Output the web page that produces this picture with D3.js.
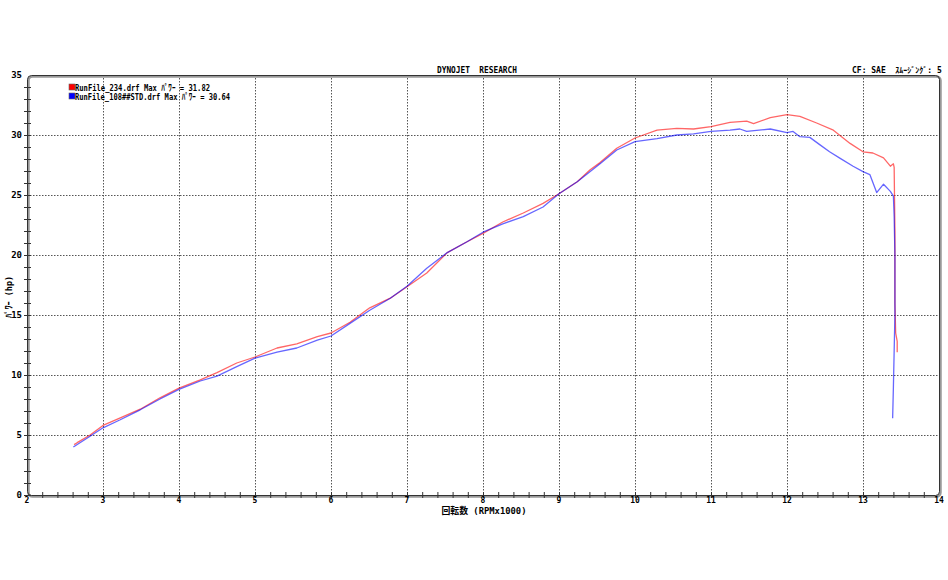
<!DOCTYPE html>
<html>
<head>
<meta charset="utf-8">
<script src="https://cdn.jsdelivr.net/npm/d3@7"></script>
<style>
  body { margin: 0; background: #fff; }
  text { font-family: "DejaVu Sans Mono", "Noto Sans CJK JP", monospace; font-weight: bold; fill: #000; white-space: pre; }
</style>
</head>
<body>
<svg id="chart" width="948" height="580"></svg>
<script>
// run 234 (red)
const redRpm = [2.62, 2.66, 2.83, 3.0, 3.22, 3.49, 3.75, 4.0, 4.28, 4.5, 4.76, 5.0, 5.29, 5.55, 5.82, 6.0,
  6.25, 6.51, 6.78, 7.0, 7.26, 7.53, 7.79, 8.0, 8.26, 8.53, 8.79, 9.0, 9.24, 9.41, 9.54, 9.76, 10.0,
  10.29, 10.55, 10.77, 11.0, 11.25, 11.47, 11.56, 11.78, 12.0, 12.17, 12.39, 12.61, 12.83, 13.0, 13.13,
  13.27, 13.36, 13.40, 13.41, 13.42, 13.42, 13.43, 13.45, 13.45];
const redHp = [4.2, 4.36, 5.0, 5.8, 6.4, 7.15, 8.1, 8.9, 9.6, 10.2, 11.0, 11.5, 12.25, 12.6, 13.2, 13.5,
  14.4, 15.6, 16.4, 17.35, 18.5, 20.2, 21.1, 21.8, 22.75, 23.5, 24.3, 25.1, 26.1, 27.1, 27.7, 28.9, 29.75,
  30.4, 30.55, 30.5, 30.7, 31.05, 31.15, 30.95, 31.45, 31.7, 31.55, 31.0, 30.4, 29.3, 28.6, 28.5,
  28.1, 27.4, 27.6, 27.3, 22, 16, 13.5, 12.8, 11.9];

// run 108 STD (blue)
const blueRpm = [2.61, 2.83, 3.0, 3.22, 3.49, 3.75, 4.0, 4.28, 4.5, 4.76, 5.0, 5.29, 5.55, 5.82, 6.0,
  6.25, 6.51, 6.78, 7.0, 7.26, 7.53, 7.79, 8.0, 8.26, 8.53, 8.79, 9.0, 9.24, 9.54, 9.76, 10.0,
  10.29, 10.55, 10.77, 11.0, 11.25, 11.38, 11.47, 11.78, 12.0, 12.08, 12.17, 12.3, 12.43, 12.56, 12.7,
  12.87, 13.0, 13.09, 13.18, 13.27, 13.36, 13.40, 13.41, 13.42, 13.42, 13.41, 13.40, 13.39];
const blueHp = [4.0, 4.9, 5.6, 6.25, 7.1, 8.0, 8.8, 9.5, 9.9, 10.7, 11.4, 11.9, 12.25, 12.9, 13.25,
  14.3, 15.4, 16.4, 17.4, 18.9, 20.2, 21.1, 21.9, 22.6, 23.2, 24.0, 25.1, 26.1, 27.6, 28.75, 29.45,
  29.7, 30.0, 30.1, 30.3, 30.4, 30.5, 30.3, 30.5, 30.2, 30.3, 29.86, 29.8, 29.2, 28.6, 28.05,
  27.4, 26.95, 26.7, 25.2, 25.9, 25.3, 24.9, 23.2, 20, 15, 12, 9, 6.4];

const legendLabels = ["RunFile_234.drf Max ﾊﾟﾜｰ = 31.82", "RunFile_108##STD.drf Max ﾊﾟﾜｰ = 30.64"];
const seriesColors = ["#ff0000", "#0000ff"];
const xTicks = d3.range(2, 15);
const yTicks = d3.range(0, 36, 5);

const svg = d3.select("#chart");
const x = d3.scaleLinear().domain([2, 14]).range([27, 939]);
const y = d3.scaleLinear().domain([0, 35]).range([495, 75]);

// grid
const grid = svg.append("g")
  .attr("stroke", "#555")
  .attr("stroke-dasharray", "1.5,1.5");
grid.selectAll(".vg").data(xTicks.filter(d => d > 2 && d < 14)).join("line")
  .attr("x1", d => x(d) + 0.5).attr("x2", d => x(d) + 0.5)
  .attr("y1", y(35)).attr("y2", y(0));
grid.selectAll(".hg").data(yTicks.filter(d => d > 0 && d < 35)).join("line")
  .attr("y1", d => y(d) + 0.5).attr("y2", d => y(d) + 0.5)
  .attr("x1", x(2)).attr("x2", x(14));

// frame with shadow
svg.append("rect")
  .attr("x", x(2) + 1.5).attr("y", y(35) + 1.5)
  .attr("width", x(14) - x(2)).attr("height", y(0) - y(35))
  .attr("rx", 4).attr("fill", "none").attr("stroke", "#999").attr("stroke-width", 2.5);
svg.append("rect")
  .attr("x", x(2) + 0.5).attr("y", y(35) + 0.5)
  .attr("width", x(14) - x(2)).attr("height", y(0) - y(35))
  .attr("rx", 4).attr("fill", "none").attr("stroke", "#333").attr("stroke-width", 1);

// minor ticks
svg.append("g").selectAll("line").data(d3.range(0, 35, 1)).join("line")
  .attr("x1", x(2) - 3).attr("x2", x(2) + 4)
  .attr("y1", d => y(d) + 0.5).attr("y2", d => y(d) + 0.5)
  .attr("stroke", "#333");
svg.append("g").selectAll("line").data(d3.range(2.2, 14, 0.2)).join("line")
  .attr("x1", d => x(d) + 0.5).attr("x2", d => x(d) + 0.5)
  .attr("y1", y(0) - 3).attr("y2", y(0) + 3)
  .attr("stroke", "#333");

// tick labels
svg.append("g").selectAll("text").data(yTicks).join("text")
  .attr("x", 22).attr("y", d => y(d) + 3)
  .attr("text-anchor", "end").attr("font-size", 9)
  .text(d => d);
svg.append("g").selectAll("text").data(xTicks).join("text")
  .attr("x", d => x(d)).attr("y", 503)
  .attr("text-anchor", "middle").attr("font-size", 8)
  .text(d => d);

// titles
svg.append("text").attr("x", 477).attr("y", 73).attr("text-anchor", "middle")
  .attr("font-size", 9).attr("textLength", 80).attr("lengthAdjust", "spacingAndGlyphs")
  .text("DYNOJET  RESEARCH");
svg.append("text").attr("x", 852).attr("y", 73)
  .attr("font-size", 8)
  .text("CF: SAE  ｽﾑｰｼﾞﾝｸﾞ: 5");
svg.append("text").attr("x", 484).attr("y", 514).attr("text-anchor", "middle")
  .attr("font-size", 9).attr("textLength", 85).attr("lengthAdjust", "spacingAndGlyphs")
  .text("回転数 (RPMx1000)");
svg.append("text")
  .attr("transform", "translate(12,297) rotate(-90)")
  .attr("text-anchor", "middle").attr("font-size", 9)
  .attr("textLength", 42).attr("lengthAdjust", "spacingAndGlyphs")
  .text("ﾊﾟﾜｰ (hp)");

// curves
const line = d3.line().x(d => x(d[0])).y(d => y(d[1]));
const series = [d3.zip(redRpm, redHp), d3.zip(blueRpm, blueHp)];
svg.append("g").selectAll("path").data(series).join("path")
  .attr("d", line)
  .attr("fill", "none")
  .attr("stroke", (d, i) => seriesColors[i])
  .attr("stroke-opacity", 0.6)
  .attr("stroke-width", 1.3)
  .attr("stroke-linejoin", "round");

// legend
const legend = svg.append("g").attr("transform", "translate(69,84)");
legend.selectAll("rect").data(legendLabels).join("rect")
  .attr("x", 0).attr("y", (d, i) => i * 9)
  .attr("width", 6).attr("height", 6)
  .attr("fill", (d, i) => seriesColors[i])
  .attr("stroke", "#666").attr("stroke-width", 0.6);
legend.selectAll("text").data(legendLabels).join("text")
  .attr("x", 6).attr("y", (d, i) => i * 9 + 6.5)
  .attr("font-size", 9).attr("font-weight", "normal")
  .attr("textLength", (d, i) => i === 0 ? 135 : 155)
  .attr("lengthAdjust", "spacingAndGlyphs")
  .text(d => d);
</script>
</body>
</html>
